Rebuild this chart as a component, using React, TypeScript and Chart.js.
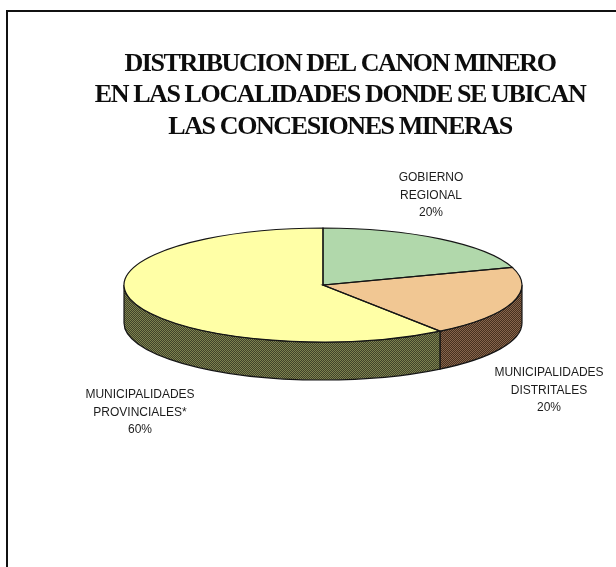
import React, { useEffect, useRef } from "react";
import { Chart, registerables } from "chart.js";

Chart.register(...registerables);

// ---- data ----
const categories = [
  "GOBIERNO REGIONAL",
  "MUNICIPALIDADES DISTRITALES",
  "MUNICIPALIDADES PROVINCIALES*",
];
const labelLines = [
  ["GOBIERNO", "REGIONAL"],
  ["MUNICIPALIDADES", "DISTRITALES"],
  ["MUNICIPALIDADES", "PROVINCIALES*"],
];
const shares = [20, 20, 60];
const titleLines = [
  "DISTRIBUCION DEL CANON MINERO",
  "EN LAS LOCALIDADES DONDE SE UBICAN",
  "LAS CONCESIONES MINERAS",
];

// ---- styles / layout ----
const topColors = ["#b1d8ab", "#f1c793", "#ffffa6"];
const sideColors = [
  ["#3a5436", "#77966f"],
  ["#47301f", "#87654c"],
  ["#40432a", "#7e824e"],
];
const PIE_CX = 323;
const PIE_CY = 285;
const PIE_RX = 199;
const PIE_RY = 57;
const DEPTH = 38;
const K = PIE_RY / PIE_RX;
const labelAnchors = [
  [431, 178],
  [549, 373],
  [140, 395],
];

function makePattern(ctx: CanvasRenderingContext2D, a: string, b: string) {
  const c = document.createElement("canvas");
  c.width = 2;
  c.height = 2;
  const g = c.getContext("2d")!;
  g.fillStyle = a;
  g.fillRect(0, 0, 2, 2);
  g.fillStyle = b;
  g.fillRect(0, 0, 1, 1);
  g.fillRect(1, 1, 1, 1);
  return ctx.createPattern(c, "repeat") || a;
}

const pie3d = {
  id: "pie3d",
  beforeDraw(chart: any) {
    const ctx = chart.ctx;
    ctx.fillStyle = "#ffffff";
    ctx.fillRect(0, 0, chart.width, chart.height);
    (ctx as any).letterSpacing = "-1.4px";
  },
  beforeDatasetsDraw(chart: any) {
    const ctx: CanvasRenderingContext2D = chart.ctx;
    (ctx as any).letterSpacing = "0px";
    const meta = chart.getDatasetMeta(0);
    const rx = meta.data[0].outerRadius;
    const ry = rx * K;
    // side walls (front half only)
    ctx.save();
    ctx.lineWidth = 1.2;
    ctx.strokeStyle = "#151515";
    meta.data.forEach((arc: any, i: number) => {
      const s = arc.startAngle;
      const e = arc.endAngle;
      for (const off of [-2 * Math.PI, 0, 2 * Math.PI]) {
        const a = Math.max(s, off);
        const b = Math.min(e, off + Math.PI);
        if (b <= a) continue;
        ctx.beginPath();
        ctx.ellipse(PIE_CX, PIE_CY, rx, ry, 0, a, b);
        ctx.lineTo(PIE_CX + rx * Math.cos(b), PIE_CY + ry * Math.sin(b) + DEPTH);
        ctx.ellipse(PIE_CX, PIE_CY + DEPTH, rx, ry, 0, b, a, true);
        ctx.closePath();
        ctx.fillStyle = makePattern(ctx, sideColors[i][0], sideColors[i][1]) as any;
        ctx.fill();
        ctx.stroke();
      }
    });
    ctx.restore();
    // squash the top face
    const first = meta.data[0];
    ctx.save();
    ctx.translate(PIE_CX, PIE_CY);
    ctx.scale(1, K);
    ctx.translate(-first.x, -first.y);
  },
  afterDatasetsDraw(chart: any) {
    const ctx: CanvasRenderingContext2D = chart.ctx;
    ctx.restore();
    const meta = chart.getDatasetMeta(0);
    const rx = meta.data[0].outerRadius;
    const ry = rx * K;
    ctx.save();
    ctx.lineWidth = 1.2;
    ctx.strokeStyle = "#151515";
    meta.data.forEach((arc: any) => {
      ctx.beginPath();
      ctx.moveTo(PIE_CX, PIE_CY);
      ctx.ellipse(PIE_CX, PIE_CY, rx, ry, 0, arc.startAngle, arc.endAngle);
      ctx.closePath();
      ctx.stroke();
    });
    ctx.restore();
  },
  afterDraw(chart: any) {
    const ctx: CanvasRenderingContext2D = chart.ctx;
    ctx.save();
    (ctx as any).letterSpacing = "0px";
    const total = shares.reduce((a, b) => a + b, 0);
    ctx.font = '12px "Liberation Sans", Arial, sans-serif';
    ctx.fillStyle = "#1c1c1c";
    ctx.textAlign = "center";
    ctx.textBaseline = "middle";
    labelLines.forEach((lines, i) => {
      const all = [...lines, Math.round((shares[i] / total) * 100) + "%"];
      const [x, y] = labelAnchors[i];
      all.forEach((t, j) => ctx.fillText(t, x, y + j * 17.5));
    });
    // frame
    ctx.strokeStyle = "#111";
    ctx.lineWidth = 2;
    ctx.beginPath();
    ctx.moveTo(7, 567);
    ctx.lineTo(7, 11);
    ctx.lineTo(616, 11);
    ctx.stroke();
    ctx.restore();
  },
};

export default function App() {
  const ref = useRef<HTMLCanvasElement>(null);
  useEffect(() => {
    const chart = new Chart(ref.current!, {
      type: "pie",
      data: {
        labels: categories,
        datasets: [
          {
            data: shares,
            backgroundColor: topColors,
            borderWidth: 0,
            radius: PIE_RX,
          } as any,
        ],
      },
      options: {
        responsive: false,
        animation: false,
        events: [],
        layout: { padding: { left: 64, top: 0 } },
        plugins: {
          legend: { display: false },
          tooltip: { enabled: false },
          title: {
            display: true,
            text: titleLines,
            color: "#0d0d0d",
            font: {
              family: '"Liberation Serif", "Times New Roman", serif',
              size: 26,
              weight: "bold",
              lineHeight: 1.22,
            },
            padding: { top: 48, bottom: 10 },
          },
        },
      },
      plugins: [pie3d],
    });
    return () => chart.destroy();
  }, []);
  return (
    <div style={{ position: "fixed", left: 0, top: 0, width: 616, height: 567 }}>
      <canvas ref={ref} width={616} height={567} style={{ display: "block" }} />
    </div>
  );
}
